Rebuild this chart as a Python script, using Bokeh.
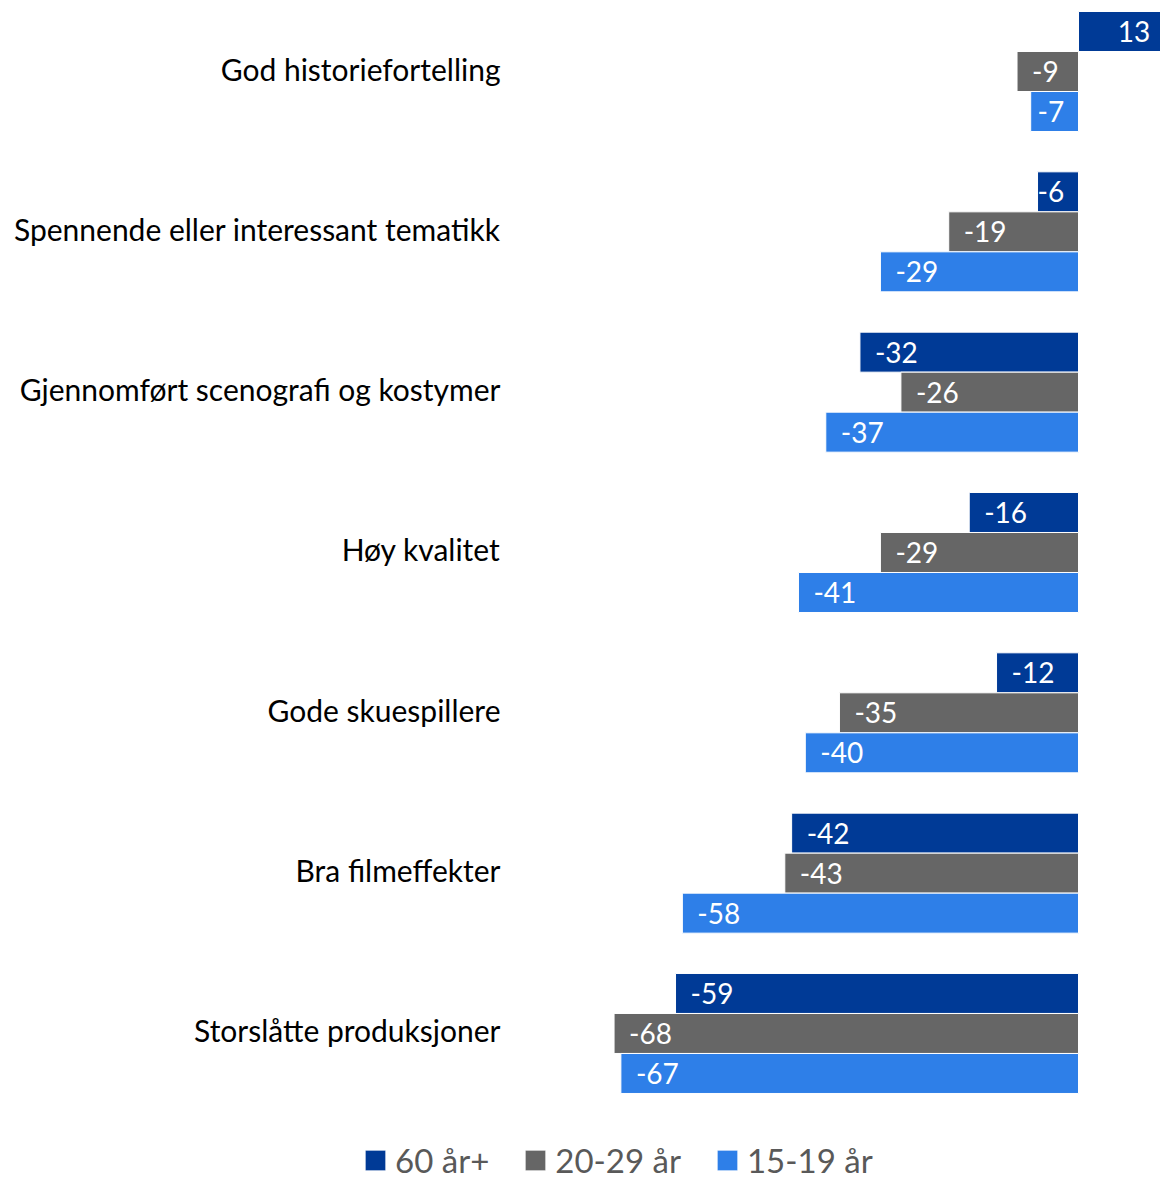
from bokeh.plotting import figure
from bokeh.models import Range1d, ColumnDataSource, LabelSet, Legend, LegendItem
from bokeh.embed import file_html
from bokeh.resources import INLINE
from bokeh.core.properties import value

# ---------------- data ----------------
categories = [
    "God historiefortelling",
    "Spennende eller interessant tematikk",
    "Gjennomført scenografi og kostymer",
    "Høy kvalitet",
    "Gode skuespillere",
    "Bra filmeffekter",
    "Storslåtte produksjoner",
]
series_names = ["60 år+", "20-29 år", "15-19 år"]
vals_60 = [13, -6, -32, -16, -12, -42, -59]
vals_20_29 = [-9, -19, -26, -29, -35, -43, -68]
vals_15_19 = [-7, -29, -37, -41, -40, -58, -67]
series_values = [vals_60, vals_20_29, vals_15_19]
colors = ["#003A96", "#666666", "#2E7FE8"]

# ---------------- layout ----------------
W, H = 1160, 1181
PX_PER_UNIT = 6.83          # horizontal scale
ZERO_PX = 1078              # frame px of value 0
GROUP_PX = 160.33           # vertical px per category
FIRST_CENTER_PX = 71        # frame px (from top) of first category centre
BAR_H = 40 / GROUP_PX
FONT = "Lato"

x_range = Range1d(-ZERO_PX / PX_PER_UNIT, (W - ZERO_PX) / PX_PER_UNIT)
y_range = Range1d((H - FIRST_CENTER_PX) / GROUP_PX, -FIRST_CENTER_PX / GROUP_PX)

p = figure(width=W, height=H, x_range=x_range, y_range=y_range,
           output_backend="svg", toolbar_location=None,
           min_border=0, min_border_left=0, min_border_right=0,
           min_border_top=0, min_border_bottom=0)
p.xaxis.visible = False
p.yaxis.visible = False
p.xgrid.visible = False
p.ygrid.visible = False
p.outline_line_color = None

offsets = [-BAR_H, 0.0, BAR_H]
renderers = []
neg = dict(x=[], y=[], t=[], xo=[])
pos = dict(x=[], y=[], t=[], xo=[])
for s, (vals, col, off) in enumerate(zip(series_values, colors, offsets)):
    ys = [i + off for i in range(len(categories))]
    src = ColumnDataSource(dict(y=ys, v=vals))
    r = p.hbar(y="y", left=0, right="v", height=BAR_H, source=src,
               fill_color=col, line_color="white", line_width=1)
    renderers.append(r)
    for y, v in zip(ys, vals):
        if v < 0:
            bar_px = abs(v) * PX_PER_UNIT
            neg["x"].append(v); neg["y"].append(y); neg["t"].append(str(v))
            neg["xo"].append(min(15, max(0, bar_px - 41)))
        else:
            pos["x"].append(v); pos["y"].append(y); pos["t"].append(str(v))
            pos["xo"].append(-17)

common = dict(text_baseline="middle", text_color="white",
              text_font=value(FONT), text_font_size="28px")
p.add_layout(LabelSet(x="x", y="y", text="t", x_offset="xo", text_align="left",
                      source=ColumnDataSource(neg), **common))
p.add_layout(LabelSet(x="x", y="y", text="t", x_offset="xo", text_align="right",
                      source=ColumnDataSource(pos), **common))

LABEL_X = (500 - ZERO_PX) / PX_PER_UNIT
p.text(x=[LABEL_X] * len(categories), y=list(range(len(categories))), text=categories,
       text_align="right", text_baseline="middle", text_color="#000000",
       text_font=value(FONT), text_font_size="30px", y_offset=-3)

legend = Legend(items=[LegendItem(label=n, renderers=[r]) for n, r in zip(series_names, renderers)],
                orientation="horizontal", location=(362, 1), padding=0, margin=0,
                spacing=33, glyph_width=26, glyph_height=26, label_standoff=7,
                label_text_font=FONT, label_text_font_size="33px",
                label_text_color="#595959", border_line_color=None,
                background_fill_alpha=0)
p.add_layout(legend, "center")

open("out.html", "w").write(file_html(p, INLINE))
